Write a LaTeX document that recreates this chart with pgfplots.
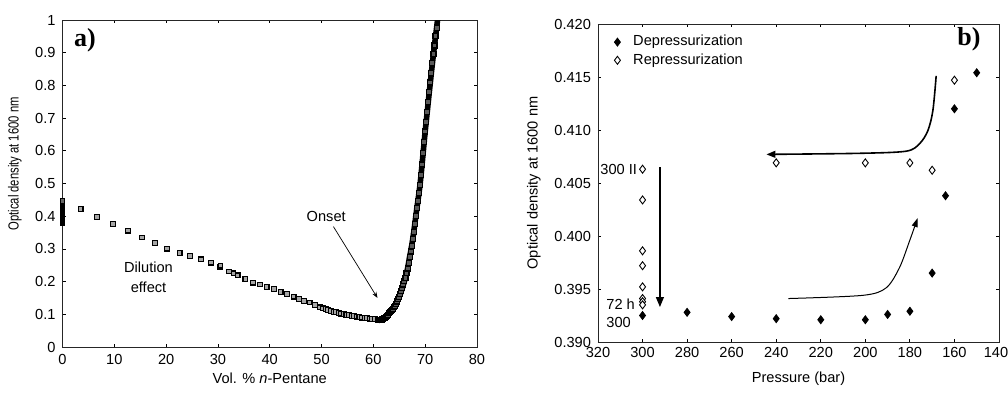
\documentclass[border=0pt]{standalone}
\usepackage{fontspec}
\setmainfont{Liberation Sans}
\newfontfamily\labfont{Liberation Serif}
\usepackage{graphicx}
\usepackage{pgfplots}
\pgfplotsset{compat=1.18}
\usetikzlibrary{arrows.meta}

\pgfplotstableread{
x y
0 0.380
0 0.383
0 0.386
0 0.389
0 0.392
0 0.395
0 0.398
0 0.401
0 0.404
0 0.407
0 0.410
0 0.413
0 0.416
0 0.419
0 0.422
0 0.425
0 0.428
0 0.431
0 0.434
0 0.437
0 0.440
0 0.443
0 0.446
}\start

\pgfplotstableread{
x y
3.5 0.422
6.7 0.398
9.8 0.376
12.7 0.356
15.4 0.335
17.9 0.318
20.2 0.301
22.6 0.287
24.6 0.278
26.7 0.268
28.6 0.258
30.4 0.244
30.5 0.249
32.1 0.231
33.0 0.225
33.8 0.219
35.3 0.207
36.8 0.197
38.1 0.191
39.4 0.183
40.8 0.177
42.1 0.168
43.3 0.162
44.6 0.154
45.7 0.147
46.6 0.141
47.7 0.136
48.7 0.128
49.7 0.121
50.3 0.118
50.8 0.116
51.3 0.113
51.8 0.110
52.3 0.108
52.8 0.106
53.3 0.104
53.8 0.102
54.3 0.100
54.8 0.098
55.3 0.097
55.8 0.095
56.3 0.094
56.8 0.093
57.3 0.091
57.8 0.090
58.3 0.089
58.8 0.088
59.3 0.087
59.8 0.086
60.3 0.085
60.8 0.084
}\dilution

\pgfplotstableread{
x y
61.0 0.083
61.2 0.082
61.4 0.083
61.6 0.084
61.8 0.086
62.0 0.088
62.2 0.090
62.4 0.093
62.6 0.096
62.8 0.099
63.0 0.103
63.2 0.106
63.4 0.110
63.6 0.113
63.8 0.117
64.0 0.121
64.2 0.126
64.4 0.132
64.6 0.139
64.8 0.146
65.0 0.154
65.2 0.162
65.4 0.171
65.6 0.181
65.8 0.191
66.0 0.201
66.2 0.212
66.4 0.225
66.6 0.240
66.8 0.257
67.0 0.276
67.2 0.292
67.4 0.310
67.6 0.330
67.8 0.352
68.0 0.376
68.2 0.401
68.4 0.425
68.6 0.447
68.8 0.470
69.0 0.495
69.2 0.525
69.4 0.558
69.6 0.592
69.8 0.626
70.0 0.659
70.2 0.689
70.4 0.719
70.6 0.750
70.8 0.780
71.0 0.809
71.2 0.839
71.4 0.868
71.6 0.896
71.8 0.922
72.0 0.950
72.2 0.975
72.4 1.002
}\rise

\begin{document}
\begin{tikzpicture}[font=\fontsize{7.3}{8.5}\selectfont]
\useasboundingbox (0,0) rectangle (504pt,196pt);
\pgfplotsset{
  every axis/.append style={
    scale only axis,
    axis line style={black!85, line width=0.4pt},
    every tick/.style={black, line width=0.4pt},
    major tick length=1.6pt,
    tick align=inside,
    scaled ticks=false,
    /pgf/number format/assume math mode=true,
    tick label style={font=\fontsize{7.3}{8.5}\selectfont},
    label style={font=\fontsize{7.3}{8.5}\selectfont},
  }
}
% ---------------- panel a ----------------
\begin{axis}[
  at={(31.25pt,22.5pt)}, anchor=south west,
  width=207.25pt, height=163.5pt,
  xmin=0, xmax=80, ymin=0, ymax=1,
  xtick={0,10,20,30,40,50,60,70,80},
  ytick={0,0.1,0.2,0.3,0.4,0.5,0.6,0.7,0.8,0.9,1},
  yticklabel style={/pgf/number format/.cd, fixed, precision=1},
  xlabel={Vol. \% \textit{n}-Pentane},
  ylabel={\scalebox{0.77}[1]{Optical density at 1600 nm}},
  xlabel style={at={(axis description cs:0.5,-0.095)}, anchor=center},
  ylabel style={at={(axis description cs:-0.115,0.56)}, anchor=center},
]
\addplot[only marks, mark=square*, mark size=1.2pt,
  mark options={draw=black, fill=black!60, line width=0.5pt}] table[x=x,y=y] {\start};
\addplot[only marks, mark=square*, mark size=1.2pt,
  mark options={draw=black, fill=black!35, line width=0.55pt}] table[x=x,y=y] {\dilution};
\addplot[black, line width=2.8pt, mark=square*, mark size=1.25pt,
  mark options={draw=black, fill=black!65, line width=0.55pt}] table[x=x,y=y] {\rise};
\node at (axis description cs:0.054,0.939) {\labfont\bfseries\fontsize{13}{13}\selectfont a)};
\node[align=center, font=\fontsize{7.3}{10}\selectfont] at (axis cs:16.6,0.214) {Dilution\\effect};
\node at (axis cs:50.9,0.398) {Onset};
\draw[-{Stealth[length=3pt,width=2.2pt]}, line width=0.35pt] (axis cs:52.3,0.368) -- (axis cs:60.8,0.150);
\end{axis}

% ---------------- panel b ----------------
\begin{axis}[
  at={(299pt,25pt)}, anchor=south west,
  width=200.5pt, height=159pt,
  x dir=reverse,
  xmin=140, xmax=320, ymin=0.390, ymax=0.420,
  xtick={140,160,180,200,220,240,260,280,300,320},
  xticklabels={\hspace*{-3pt}140,160,180,200,220,240,260,280,300,320},
  ytick={0.390,0.395,0.400,0.405,0.410,0.415,0.420},
  yticklabel style={/pgf/number format/.cd, fixed, fixed zerofill, precision=3},
  xticklabel style={yshift=1pt},
  xlabel={Pressure (bar)},
  ylabel={Optical density at 1600 nm},
  xlabel style={at={(axis description cs:0.5,-0.116)}, anchor=center},
  ylabel style={at={(axis description cs:-0.16,0.5)}, anchor=center},
  legend style={at={(axis description cs:0.04,0.972)}, anchor=north west,
    draw=none, fill=none, inner sep=0pt, row sep=0.3pt,
    font=\fontsize{7.3}{8.5}\selectfont,
    nodes={inner sep=1pt},
    /tikz/every odd column/.append style={column sep=5.4pt}},
  legend cell align=left,
  legend image code/.code={\draw[only marks,#1] plot coordinates {(0pt,0pt)};},
]
\addplot[only marks, mark=diamond*, mark size=2pt,
  mark options={fill=black, draw=black}] coordinates {
  (300,0.3925) (280,0.3928) (260,0.3924) (240,0.3922) (220,0.3921)
  (200,0.3921) (190,0.3926) (180,0.3929) (170,0.3965) (164,0.4038)
  (160,0.4120) (150,0.4154)};
\addlegendentry{Depressurization}
\addplot[only marks, mark=diamond*, mark size=2pt,
  mark options={fill=white, draw=black, line width=0.45pt}] coordinates {
  (300,0.4063) (300,0.4034) (300,0.3986) (300,0.3972) (300,0.3952)
  (300,0.3941) (300,0.3938) (300,0.3935)
  (240,0.4069) (200,0.4069) (180,0.4069) (170,0.4062) (160,0.4147)};
\addlegendentry{Repressurization}
% annotation arrows
\addplot[forget plot, black, line width=0.8pt, smooth, tension=0.5,
  -{Triangle[length=4.5pt,width=3.4pt]}] coordinates {
  (168.2,0.4151) (169.7,0.4118) (172.0,0.4099) (175.7,0.4087) (181.7,0.4080) (202.7,0.4078) (244.4,0.4077)};
\addplot[forget plot, black, line width=0.5pt, smooth, tension=0.5,
  -{Triangle[length=4.5pt,width=3pt]}] coordinates {
  (234.5,0.3941) (201.2,0.3944) (190.7,0.3951) (184.7,0.3970) (180.2,0.3995) (176.5,0.4017)};
\draw[line width=0.6pt, -{Triangle[length=5pt,width=4pt]}] (axis cs:292.2,0.4065) -- (axis cs:292.2,0.3933);
\node[anchor=west, inner sep=0pt] at (axis cs:319.1,0.4063) {300 II};
\node[anchor=west, inner sep=0pt] at (axis cs:316.4,0.3936) {72 h};
\node[anchor=west, inner sep=0pt] at (axis cs:316.4,0.3918) {300};
\node at (axis description cs:0.925,0.953) {\labfont\bfseries\fontsize{13}{13}\selectfont b)};
\end{axis}
\end{tikzpicture}
\end{document}
